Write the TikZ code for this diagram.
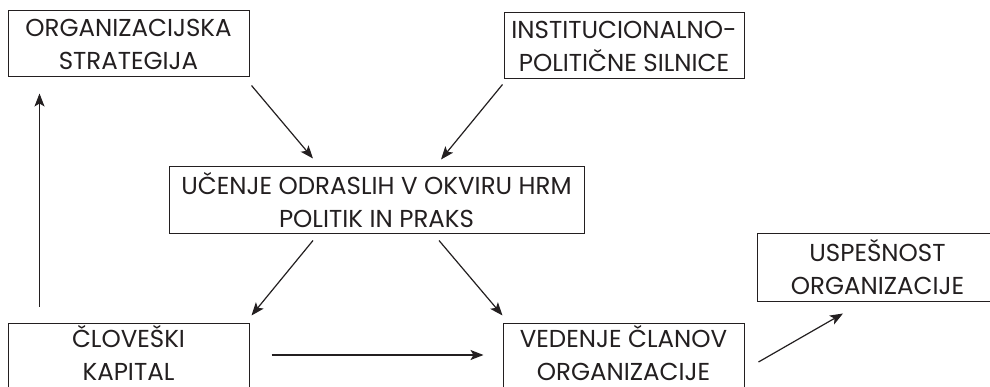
\documentclass[tikz,border=0pt]{standalone}
\usepackage{fontspec}
\setmainfont{Poppins}
\usetikzlibrary{arrows.meta}
\definecolor{ink}{HTML}{231F20}
\tikzset{
  box/.style={draw=ink, line width=1pt, rectangle, inner sep=0pt, align=center,
    text=ink, font=\fontsize{24.5}{33}\selectfont},
  lowbox/.style={box, text depth=6pt},
  arr/.style={draw=ink, line width=1.2pt, -{Stealth[length=13pt,width=10pt,inset=3pt]}}
}
\begin{document}
\begin{tikzpicture}[x=1pt,y=-1pt]
\useasboundingbox (0,0) rectangle (990,387);
\clip (0,0) rectangle (990,387);
\fill[white] (0,0) rectangle (990,387);
\node[box, minimum width=241pt, minimum height=66pt] (strat) at (128.5,44) {ORGANIZACIJSKA\\STRATEGIJA};
\node[box, minimum width=240pt, minimum height=66pt] (inst) at (624,46) {INSTITUCIONALNO-\\POLITIČNE SILNICE};
\node[box, minimum width=415pt, minimum height=67pt] (ucenje) at (376.5,200.5) {UČENJE ODRASLIH V OKVIRU HRM\\POLITIK IN PRAKS};
\node[lowbox, minimum width=241pt, minimum height=66pt] (clov) at (128.5,356) {ČLOVEŠKI\\KAPITAL};
\node[lowbox, minimum width=241pt, minimum height=66pt] (ved) at (623.5,356) {VEDENJE ČLANOV\\ORGANIZACIJE};
\node[box, minimum width=241pt, minimum height=67pt] (usp) at (877.5,267.5) {USPEŠNOST\\ORGANIZACIJE};
\draw[arr] ([xshift=2pt,yshift=-8pt]strat.south east) -- ([xshift=-63.5pt,yshift=8pt]ucenje.north);
\draw[arr] ([xshift=-1pt,yshift=-5pt]inst.south west) -- ([xshift=64.5pt,yshift=7pt]ucenje.north);
\draw[arr] ([xshift=-63.5pt,yshift=-6pt]ucenje.south) -- ([xshift=2pt,yshift=7pt]clov.north east);
\draw[arr] ([xshift=62.5pt,yshift=-6pt]ucenje.south) -- ([xshift=0pt,yshift=7pt]ved.north west);
\draw[arr] ([xshift=22pt,yshift=1pt]clov.east) -- ([xshift=-19pt,yshift=1pt]ved.west);
\draw[arr] ([xshift=32pt,yshift=16pt]clov.north west) -- ([xshift=32pt,yshift=-16pt]strat.south west);
\draw[arr] ([xshift=14pt,yshift=-6pt]ved.east) -- ([xshift=-34.5pt,yshift=-12pt]usp.south);
\end{tikzpicture}
\end{document}
